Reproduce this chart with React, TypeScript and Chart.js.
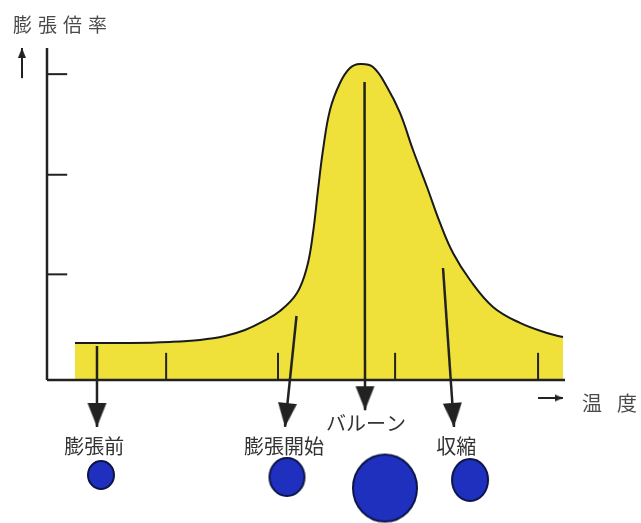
import React, { useEffect, useRef } from "react";
import { Chart, registerables } from "chart.js";

Chart.register(...registerables);

// ---- data (x: temperature units 0..100 along the drawn axis, y: expansion ratio units) ----
const curveX = [5.41, 16.02, 23.75, 29.54, 34.36, 38.22, 41.51, 44.98, 48.26, 50.19, 51.35, 52.32, 53.28, 54.63, 56.56, 58.49, 60.42, 62.93, 65.64, 68.15, 70.66, 73.36, 75.87, 78.38, 81.66, 86.1, 91.31, 96.53, 99.61];
const curveY = [0.368, 0.368, 0.378, 0.398, 0.437, 0.497, 0.577, 0.686, 0.865, 1.123, 1.461, 1.889, 2.286, 2.684, 2.952, 3.101, 3.141, 3.111, 2.913, 2.654, 2.286, 1.918, 1.561, 1.262, 0.994, 0.726, 0.567, 0.467, 0.427];

const xTickValues = [23.0, 44.6, 67.2, 94.8];
const yTickValues = [1.05, 2.04, 3.04];

const stageLabels = ["膨張前", "膨張開始", "バルーン", "収縮"];
const labelX = [9.1, 45.75, 61.6, 79.0];
const labelY = [-0.656, -0.656, -0.427, -0.656];

const arrowFromX = [9.65, 48.17, 61.3, 76.45];
const arrowFromY = [0.338, 0.636, 2.962, 1.113];
const arrowToX = [9.65, 45.95, 61.4, 78.57];
const arrowToY = [-0.467, -0.467, -0.3, -0.467];

const balloonX = [10.42, 46.33, 65.25, 81.66];
const balloonY = [-0.944, -0.964, -1.074, -0.994];
const balloonRx = [13, 17.5, 32, 18];
const balloonRy = [14, 19, 33.5, 21];

const yAxisTitle = "膨張倍率";
const xAxisTitle = "温度";

// ---- layout extents of the scales ----
const X_MIN = -9.073;
const X_MAX = 114.67;
const Y_MIN = -1.4215;
const Y_MAX = 3.777;
const AXIS_TOP = 3.3;
const AXIS_RIGHT = 100;
const X_TICK_LEN = 0.27;
const Y_TICK_LEN = 3.9;

const INK = "#222222";
const YELLOW = "#efe13a";

function makeHead(w: number, h: number, color: string): HTMLCanvasElement {
  const c = document.createElement("canvas");
  c.width = Math.ceil(w) + 2;
  c.height = Math.ceil(h) * 2;
  const g = c.getContext("2d")!;
  const cx = c.width / 2;
  g.fillStyle = color;
  g.beginPath();
  g.moveTo(cx - w / 2, 0);
  g.lineTo(cx + w / 2, 0);
  g.lineTo(cx, Math.ceil(h));
  g.closePath();
  g.fill();
  return c;
}

function makeBalloon(rx: number, ry: number): HTMLCanvasElement {
  const c = document.createElement("canvas");
  c.width = Math.ceil(rx * 2 + 4);
  c.height = Math.ceil(ry * 2 + 4);
  const g = c.getContext("2d")!;
  g.beginPath();
  g.ellipse(c.width / 2, c.height / 2, rx, ry, 0, 0, Math.PI * 2);
  g.fillStyle = "#1f30bf";
  g.fill();
  g.lineWidth = 2;
  g.strokeStyle = "#0c1448";
  g.stroke();
  return c;
}

function arrowDataset(x1: number, y1: number, x2: number, y2: number, head: HTMLCanvasElement, width: number) {
  return {
    type: "line" as const,
    data: [
      { x: x1, y: y1 },
      { x: x2, y: y2 },
    ],
    borderColor: INK,
    borderWidth: width,
    fill: false,
    order: 0,
    pointRadius: (c: any) => (c.dataIndex === 1 ? 10 : 0),
    pointStyle: (c: any) => (c.dataIndex === 1 ? head : "circle"),
    pointRotation: (c: any) => {
      const sx = c.chart.scales.x;
      const sy = c.chart.scales.y;
      const dx = sx.getPixelForValue(x2) - sx.getPixelForValue(x1);
      const dy = sy.getPixelForValue(y2) - sy.getPixelForValue(y1);
      return (Math.atan2(dy, dx) * 180) / Math.PI - 90;
    },
  };
}

function segment(x1: number, y1: number, x2: number, y2: number, width: number) {
  return {
    type: "line" as const,
    data: [
      { x: x1, y: y1 },
      { x: x2, y: y2 },
    ],
    borderColor: INK,
    borderWidth: width,
    fill: false,
    pointRadius: 0,
    order: 0,
  };
}

const textPlugin = {
  id: "texts",
  afterDatasetsDraw(chart: any) {
    const { ctx } = chart;
    const sx = chart.scales.x;
    const sy = chart.scales.y;
    ctx.save();
    ctx.textBaseline = "middle";
    ctx.fillStyle = "#333333";
    ctx.font = '20px "Noto Sans CJK JP"';
    ctx.textAlign = "center";
    stageLabels.forEach((t, i) => {
      ctx.fillText(t, sx.getPixelForValue(labelX[i]), sy.getPixelForValue(labelY[i]));
    });
    ctx.textAlign = "left";
    ctx.fillStyle = "#4a4a4a";
    ctx.font = '19px "Noto Sans CJK JP"';
    (ctx as any).letterSpacing = "6px";
    ctx.fillText(yAxisTitle, sx.getPixelForValue(-6.56), sy.getPixelForValue(3.529));
    ctx.font = '20px "Noto Sans CJK JP"';
    (ctx as any).letterSpacing = "15px";
    ctx.fillText(xAxisTitle, sx.getPixelForValue(103.3), sy.getPixelForValue(-0.229));
    ctx.restore();
  },
};

export default function App() {
  const ref = useRef<HTMLCanvasElement | null>(null);

  useEffect(() => {
    if (!ref.current) return;
    const bigHead = makeHead(19, 24, INK);
    const smallHead = makeHead(8, 10, INK);
    const tinyHead = makeHead(7, 8, INK);
    const balloons = balloonRx.map((rx, i) => makeBalloon(rx, balloonRy[i]));

    const datasets: any[] = [
      {
        type: "line",
        data: curveX.map((x, i) => ({ x, y: curveY[i] })),
        borderColor: "#1a1a1a",
        borderWidth: 2,
        backgroundColor: YELLOW,
        fill: { value: 0 },
        pointRadius: 0,
        tension: 0.4,
        order: 10,
      },
      segment(0, 0, 0, AXIS_TOP, 2.5),
      segment(0, 0, AXIS_RIGHT, 0, 2.5),
      ...xTickValues.map((v) => segment(v, 0, v, X_TICK_LEN, 2)),
      ...yTickValues.map((v) => segment(0, v, Y_TICK_LEN, v, 2)),
      ...arrowFromX.map((x1, i) => arrowDataset(x1, arrowFromY[i], arrowToX[i], arrowToY[i], bigHead, 2.5)),
      arrowDataset(-4.83, 3.0, -4.83, 3.3, smallHead, 2),
      arrowDataset(94.8, -0.179, 99.6, -0.179, tinyHead, 2),
      {
        type: "bubble",
        data: balloonX.map((x, i) => ({ x, y: balloonY[i], r: balloonRy[i] })),
        pointStyle: (c: any) => balloons[c.dataIndex],
        order: 0,
      },
    ];

    const chart = new Chart(ref.current, {
      type: "line",
      data: { datasets },
      options: {
        animation: false,
        responsive: false,
        devicePixelRatio: 1,
        events: [],
        layout: { padding: 0, autoPadding: false },
        plugins: { legend: { display: false }, tooltip: { enabled: false }, title: { display: false } },
        scales: {
          x: { type: "linear", min: X_MIN, max: X_MAX, display: false },
          y: { type: "linear", min: Y_MIN, max: Y_MAX, display: false },
        },
      },
      plugins: [textPlugin],
    } as any);
    return () => chart.destroy();
  }, []);

  return (
    <div style={{ position: "fixed", left: 0, top: 0, width: 641, height: 523, background: "#ffffff" }}>
      <canvas ref={ref} width={641} height={523} style={{ display: "block", width: 641, height: 523 }} />
    </div>
  );
}
